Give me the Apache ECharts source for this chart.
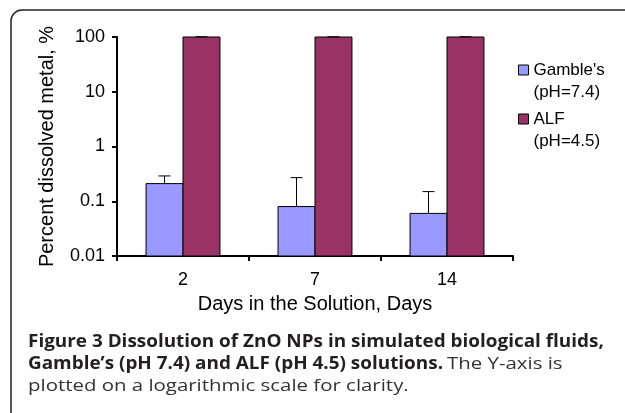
<!DOCTYPE html>
<html><head><meta charset="utf-8">
<script src="https://cdn.jsdelivr.net/npm/echarts@6/dist/echarts.min.js"></script>
<style>html,body{margin:0;padding:0;background:#fff}#c{width:625px;height:413px}</style>
</head><body><div id="c"></div>
<script>
const categories = ['2', '7', '14'];
const gambleValues = [0.21, 0.08, 0.06];
const gambleErrTop = [0.29, 0.27, 0.15];
const alfValues = [100, 100, 100];
const alfErrTop = [101, 101, 101];
const yMin = 0.01, yMax = 100;
const yTicks = [0.01, 0.1, 1, 10, 100];
const seriesNames = ["Gamble's\n(pH=7.4)", "ALF\n(pH=4.5)"];
const captionBold1 = 'Figure 3 Dissolution of ZnO NPs in simulated biological fluids,';
const captionBold2 = 'Gamble\u2019s (pH 7.4) and ALF (pH 4.5) solutions.';
const captionRest2 = 'The Y-axis is';
const captionLine3 = 'plotted on a logarithmic scale for clarity.';

const font = 'Liberation Sans, Arial, Helvetica, sans-serif';
const chart = echarts.init(document.getElementById('c'));
const BAR_FRAC = 0.28;

function barItem(side) {
  return function (params, api) {
    const cat = api.value(0);
    const val = api.value(1);
    const c = api.coord([cat, val]);
    const b = api.coord([cat, yMin]);
    const bw = api.size([1, 0])[0] * BAR_FRAC;
    const x0 = side === 0 ? c[0] - bw : c[0];
    return {
      type: 'rect',
      shape: {x: x0, y: c[1], width: bw, height: b[1] - c[1]},
      style: {fill: api.visual('color'), stroke: '#000', lineWidth: 1}
    };
  };
}

function errItem(side) {
  return function (params, api) {
    const cat = api.value(0);
    const c = api.coord([cat, api.value(1)]);
    const t = api.coord([cat, api.value(2)]);
    const bw = api.size([1, 0])[0] * BAR_FRAC;
    const x = c[0] + (side === 0 ? -bw / 2 : bw / 2);
    return {
      type: 'group',
      children: [
        {type: 'line', shape: {x1: x, y1: c[1], x2: x, y2: t[1]}, style: {stroke: '#000', lineWidth: 1}},
        {type: 'line', shape: {x1: x - 6, y1: t[1], x2: x + 6, y2: t[1]}, style: {stroke: '#000', lineWidth: 1}}
      ]
    };
  };
}

const legendBase = {
  orient: 'vertical', left: 513, itemWidth: 10, itemHeight: 10, itemGap: 0,
  selectedMode: false, icon: 'rect',
  formatter: n => '\n' + n,
  textStyle: {fontFamily: font, fontSize: 17, color: '#000', lineHeight: 22},
  itemStyle: {borderColor: '#000', borderWidth: 1}
};

const option = {
  backgroundColor: '#fff',
  animation: false,
  textStyle: {fontFamily: font},
  grid: {left: 117, right: 112, top: 37, bottom: 157, containLabel: false},
  legend: [
    Object.assign({}, legendBase, {data: [seriesNames[0]], top: 32}),
    Object.assign({}, legendBase, {data: [seriesNames[1]], top: 81})
  ],
  xAxis: {
    type: 'category', data: categories,
    name: 'Days in the Solution, Days', nameLocation: 'middle', nameGap: 38,
    nameTextStyle: {fontSize: 20, color: '#000', fontFamily: font},
    axisLine: {lineStyle: {color: '#000', width: 2}},
    axisTick: {show: true, length: 5, lineStyle: {color: '#000', width: 2}},
    axisLabel: {fontSize: 18, color: '#000', margin: 15, fontFamily: font}
  },
  yAxis: {
    type: 'log', logBase: 10, min: yMin, max: yMax,
    name: 'Percent dissolved metal, %', nameLocation: 'middle', nameGap: 60, nameRotate: 90,
    nameTextStyle: {fontSize: 20, color: '#000', fontFamily: font},
    axisLine: {show: true, lineStyle: {color: '#000', width: 2}},
    axisTick: {show: true, length: 5, lineStyle: {color: '#000', width: 2}},
    minorTick: {show: false},
    splitLine: {show: false},
    axisLabel: {fontSize: 18, color: '#000', margin: 12, fontFamily: font,
      formatter: v => { const f = yTicks.find(t => Math.abs(t - v) / t < 1e-6); return f === undefined ? '' : String(f); }}
  },
  series: [
    {name: seriesNames[0], type: 'custom', renderItem: barItem(0),
      itemStyle: {color: '#9999FF'},
      encode: {x: 0, y: 1},
      data: categories.map((c, i) => [i, gambleValues[i]])},
    {name: seriesNames[1], type: 'custom', renderItem: barItem(1),
      itemStyle: {color: '#993366'},
      encode: {x: 0, y: 1},
      data: categories.map((c, i) => [i, alfValues[i]])},
    {type: 'custom', renderItem: errItem(0), encode: {x: 0, y: [1, 2]},
      data: categories.map((c, i) => [i, gambleValues[i], gambleErrTop[i]]), z: 5, silent: true},
    {type: 'custom', renderItem: errItem(1), encode: {x: 0, y: [1, 2]},
      data: categories.map((c, i) => [i, alfValues[i], alfErrTop[i]]), z: 5, silent: true}
  ],
  graphic: [
    {type: 'rect', shape: {x: 11, y: 10, width: 800, height: 600, r: 11}, style: {fill: 'none', stroke: '#222', lineWidth: 1.5}, z: 100, silent: true},
    {type: 'text', x: 28, y: 342, scaleX: 1.112, style: {text: captionBold1, font: 'bold 17px "Open Sans", sans-serif', fill: '#231f20', verticalAlign: 'middle'}, z: 100},
    {type: 'text', x: 28, y: 364, scaleX: 1.112, style: {text: captionBold2, font: 'bold 17px "Open Sans", sans-serif', fill: '#231f20', verticalAlign: 'middle'}, z: 100},
    {type: 'text', x: 447, y: 364, scaleX: 1.2, style: {text: captionRest2, font: '17px "Open Sans", sans-serif', fill: '#333', verticalAlign: 'middle'}, z: 100},
    {type: 'text', x: 28, y: 386, scaleX: 1.2, style: {text: captionLine3, font: '17px "Open Sans", sans-serif', fill: '#333', verticalAlign: 'middle'}, z: 100}
  ]
};
chart.setOption(option);
</script></body></html>
